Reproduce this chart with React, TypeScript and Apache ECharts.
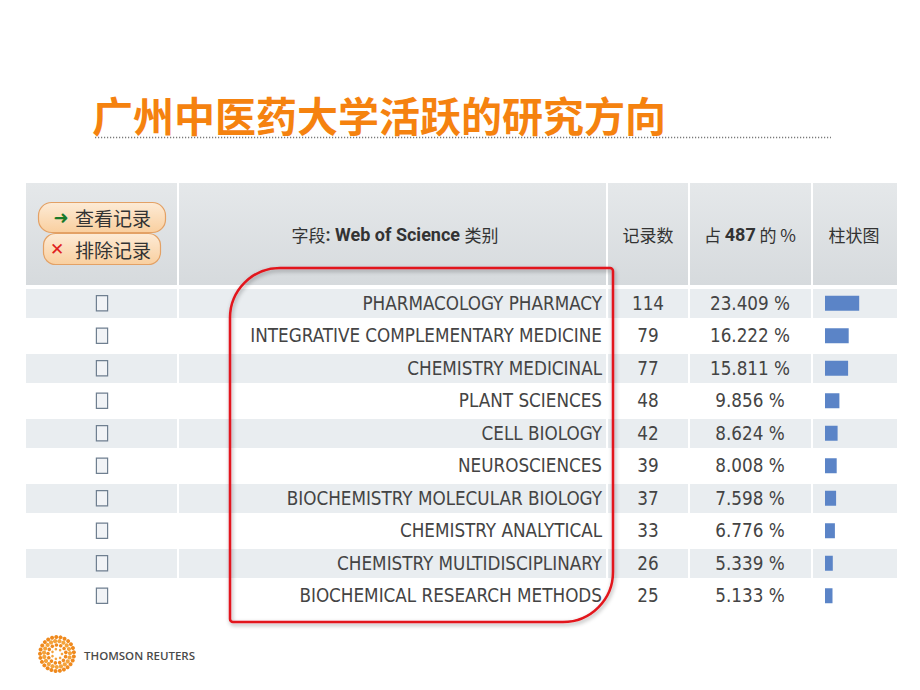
import React, { useEffect, useRef } from "react";
import * as echarts from "echarts";

const title = "广州中医药大学活跃的研究方向";
const categories = [
  "PHARMACOLOGY PHARMACY",
  "INTEGRATIVE COMPLEMENTARY MEDICINE",
  "CHEMISTRY MEDICINAL",
  "PLANT SCIENCES",
  "CELL BIOLOGY",
  "NEUROSCIENCES",
  "BIOCHEMISTRY MOLECULAR BIOLOGY",
  "CHEMISTRY ANALYTICAL",
  "CHEMISTRY MULTIDISCIPLINARY",
  "BIOCHEMICAL RESEARCH METHODS",
];
const counts = [114, 79, 77, 48, 42, 39, 37, 33, 26, 25];
const percents = ["23.409 %", "16.222 %", "15.811 %", "9.856 %", "8.624 %", "8.008 %", "7.598 %", "6.776 %", "5.339 %", "5.133 %"];
const totalRecords = 487;
const headerField = ["字段", ": Web of Science ", "类别"];
const headerCount = "记录数";
const headerPct = ["占 ", String(totalRecords), " 的 %"];
const headerBar = "柱状图";
const buttons = ["查看记录", "排除记录"];
const brand = "THOMSON REUTERS";

const NARROW = "'DejaVu Sans Condensed', 'Liberation Sans Narrow', sans-serif";
const BOLDLATIN = "Roboto, sans-serif";
const CJK = "'Noto Sans CJK SC', sans-serif";

function logoDots() {
  const out: any[] = [];
  const cx = 57, cy = 654;
  const rings = [
    { r: 5, n: 7, s: 1.3 },
    { r: 9, n: 13, s: 1.8 },
    { r: 13, n: 19, s: 2.1 },
    { r: 17, n: 25, s: 2.0 },
  ];
  rings.forEach((ring, i) => {
    for (let k = 0; k < ring.n; k++) {
      const a = (k / ring.n) * Math.PI * 2 + i * 0.3;
      out.push({
        type: "circle",
        z: 30,
        shape: { cx: cx + Math.cos(a) * ring.r, cy: cy + Math.sin(a) * ring.r, r: ring.s },
        style: { fill: i % 2 === 0 ? "#f4a33c" : "#ef8a1e" },
      });
    }
  });
  return out;
}

export default function App() {
  const ref = useRef<HTMLDivElement>(null);
  useEffect(() => {
    if (!ref.current) return;
    const chart = echarts.init(ref.current, undefined, { renderer: "svg" });
    const rowTop = 287;
    const rowH = 325;
    const labelCommon = { margin: 0, interval: 0, fontSize: 18.7, color: "#444444", fontFamily: NARROW };
    const hiddenCat = (extra: any) => ({
      type: "category",
      gridIndex: 0,
      inverse: true,
      position: "left",
      axisLine: { show: false },
      axisTick: { show: false },
      splitLine: { show: false },
      ...extra,
    });
    const option: any = {
      animation: false,
      backgroundColor: "#ffffff",
      grid: [
        { left: 26, top: rowTop, width: 871, height: rowH, containLabel: false },
        { left: 825, top: rowTop, width: 72, height: rowH, containLabel: false },
      ],
      xAxis: [
        { type: "value", gridIndex: 0, min: 0, max: 1, show: false },
        { type: "value", gridIndex: 1, min: 0, max: 240, show: false },
      ],
      yAxis: [
        hiddenCat({
          data: categories,
          offset: -(602 - 26),
          axisLabel: { ...labelCommon, align: "right" },
          splitArea: { show: true, areaStyle: { color: ["#e9edf0", "#ffffff"] } },
          splitLine: { show: true, lineStyle: { color: "#ffffff", width: 3 } },
        }),
        hiddenCat({
          data: counts.map(String),
          offset: -(648 - 26),
          axisLabel: { ...labelCommon, align: "center" },
        }),
        hiddenCat({
          data: percents,
          offset: -(750 - 26),
          axisLabel: { ...labelCommon, align: "center" },
        }),
        hiddenCat({
          data: categories,
          offset: -(102 - 26),
          axisLabel: {
            margin: 0,
            interval: 0,
            align: "center",
            formatter: () => "{b| }",
            rich: {
              b: { width: 10, height: 14, borderColor: "#6f7f90", borderWidth: 1.2, backgroundColor: "#f1f3f6" },
            },
          },
        }),
        {
          type: "category",
          gridIndex: 1,
          inverse: true,
          data: categories,
          show: false,
        },
      ],
      series: [
        {
          type: "bar",
          xAxisIndex: 1,
          yAxisIndex: 4,
          data: counts,
          barWidth: 15,
          itemStyle: { color: "#5b84c7" },
          z: 5,
        },
      ],
      graphic: [
        {
          type: "text",
          z: 50,
          x: 92,
          y: 114,
          style: {
            text: title,
            fontSize: 41,
            fontWeight: "bold",
            fontFamily: CJK,
            fill: "#f5820f",
            align: "left",
            verticalAlign: "middle",
          },
        },
        {
          type: "line",
          z: 50,
          shape: { x1: 95, y1: 137.5, x2: 831, y2: 137.5 },
          style: { stroke: "#7a7a7a", lineWidth: 1.5, lineDash: [1.2, 1.8] },
        },
        {
          type: "rect",
          z: -5,
          shape: { x: 26, y: 183, width: 871, height: 102 },
          style: {
            fill: new echarts.graphic.LinearGradient(0, 0, 0, 1, [
              { offset: 0, color: "#e5e8ea" },
              { offset: 1, color: "#d6dadd" },
            ]),
          },
        },
        ...[177, 606, 688, 811].map((x) => ({
          type: "rect",
          z: 10,
          shape: { x, y: 183, width: 2, height: 430 },
          style: { fill: "#ffffff" },
        })),
        {
          type: "text",
          z: 20,
          x: 395,
          y: 234,
          style: {
            text: `{n|${headerField[0]}}{b|${headerField[1]}}{n|${headerField[2]}}`,
            align: "center",
            verticalAlign: "middle",
            rich: {
              n: { fontSize: 17, fontFamily: CJK, fill: "#333333", color: "#333333" },
              b: { fontSize: 18, fontFamily: BOLDLATIN, fontWeight: "bold", fill: "#333333", color: "#333333" },
            },
          },
        },
        {
          type: "text",
          z: 20,
          x: 648,
          y: 234,
          style: { text: headerCount, fontSize: 17, fontFamily: CJK, fill: "#333333", align: "center", verticalAlign: "middle" },
        },
        {
          type: "text",
          z: 20,
          x: 750,
          y: 234,
          style: {
            text: `{n|${headerPct[0]}}{b|${headerPct[1]}}{n|${headerPct[2]}}`,
            align: "center",
            verticalAlign: "middle",
            rich: {
              n: { fontSize: 17, fontFamily: CJK, fill: "#333333", color: "#333333" },
              b: { fontSize: 18, fontFamily: BOLDLATIN, fontWeight: "bold", fill: "#333333", color: "#333333" },
            },
          },
        },
        {
          type: "text",
          z: 20,
          x: 854,
          y: 234,
          style: { text: headerBar, fontSize: 17, fontFamily: CJK, fill: "#333333", align: "center", verticalAlign: "middle" },
        },
        // buttons
        {
          type: "rect",
          z: 20,
          shape: { x: 38.5, y: 202.5, width: 127, height: 30, r: 13 },
          style: {
            fill: new echarts.graphic.LinearGradient(0, 0, 0, 1, [
              { offset: 0, color: "#fdebd6" },
              { offset: 1, color: "#f9cf9f" },
            ]),
            stroke: "#e3a165",
            lineWidth: 1.2,
          },
        },
        {
          type: "rect",
          z: 21,
          shape: { x: 43.5, y: 233.5, width: 117, height: 31, r: 12 },
          style: {
            fill: new echarts.graphic.LinearGradient(0, 0, 0, 1, [
              { offset: 0, color: "#fdebd6" },
              { offset: 1, color: "#f9cf9f" },
            ]),
            stroke: "#e3a165",
            lineWidth: 1.2,
          },
        },
        {
          type: "text",
          z: 22,
          x: 61,
          y: 217,
          style: { text: "➜", fontSize: 18, fontFamily: "'DejaVu Sans'", fill: "#1a7a2a", align: "center", verticalAlign: "middle", fontWeight: "bold" },
        },
        {
          type: "text",
          z: 22,
          x: 75,
          y: 217,
          style: { text: buttons[0], fontSize: 19, fontFamily: CJK, fill: "#333333", align: "left", verticalAlign: "middle" },
        },
        {
          type: "text",
          z: 22,
          x: 57,
          y: 249,
          style: { text: "✕", fontSize: 17, fontFamily: "'DejaVu Sans'", fill: "#e02020", align: "center", verticalAlign: "middle", fontWeight: "bold" },
        },
        {
          type: "text",
          z: 22,
          x: 75,
          y: 249,
          style: { text: buttons[1], fontSize: 19, fontFamily: CJK, fill: "#333333", align: "left", verticalAlign: "middle" },
        },
        // red highlight
        {
          type: "rect",
          z: 100,
          shape: { x: 230, y: 268, width: 383, height: 354, r: [50, 3, 50, 3] },
          style: {
            fill: "none",
            stroke: "#e2151d",
            lineWidth: 2.5,
            shadowBlur: 4,
            shadowColor: "rgba(0,0,0,0.35)",
            shadowOffsetX: 1,
            shadowOffsetY: 2,
          },
        },
        ...logoDots(),
        {
          type: "text",
          z: 30,
          x: 84,
          y: 655,
          style: { text: brand, fontSize: 11.5, fontFamily: "'Open Sans', sans-serif", fontWeight: 600, fill: "#4a4a4a", align: "left", verticalAlign: "middle" },
        },
      ],
    };
    chart.setOption(option);
    return () => chart.dispose();
  }, []);
  return <div ref={ref} style={{ position: "fixed", left: 0, top: 0, width: 920, height: 690, background: "#fff" }} />;
}
